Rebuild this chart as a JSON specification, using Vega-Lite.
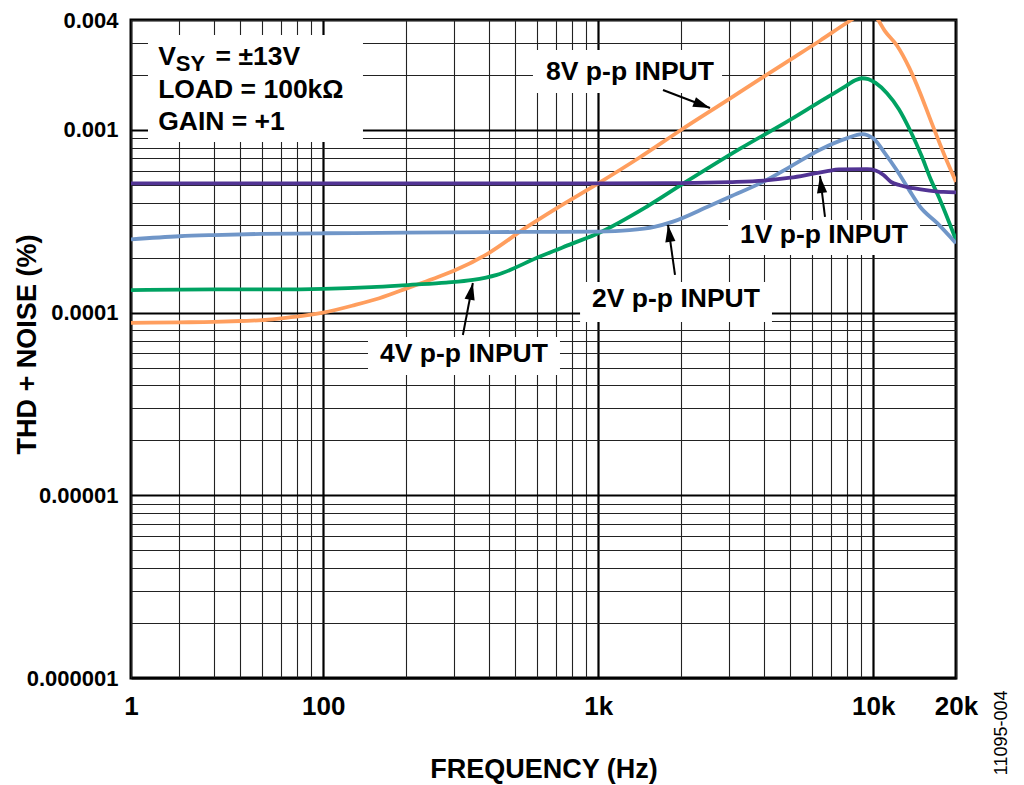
{
  "$schema": "https://vega.github.io/schema/vega-lite/v6.json",
  "width": 825,
  "height": 658,
  "autosize": {"type": "none"},
  "padding": {"left": 131, "top": 20, "right": 68, "bottom": 107},
  "background": "white",
  "config": {
    "view": {"stroke": "#000", "strokeWidth": 3},
    "font": "Liberation Sans"
  },
  "datasets": {
    "curves": [
      {"f": 20, "v": 0.000088, "s": "8V"},
      {"f": 30, "v": 0.0000885, "s": "8V"},
      {"f": 40, "v": 0.000089, "s": "8V"},
      {"f": 50, "v": 0.00009, "s": "8V"},
      {"f": 60, "v": 0.000091, "s": "8V"},
      {"f": 70, "v": 0.000093, "s": "8V"},
      {"f": 80, "v": 0.000095, "s": "8V"},
      {"f": 100, "v": 0.0001, "s": "8V"},
      {"f": 130, "v": 0.00011, "s": "8V"},
      {"f": 160, "v": 0.00012, "s": "8V"},
      {"f": 207, "v": 0.000138, "s": "8V"},
      {"f": 250, "v": 0.000153, "s": "8V"},
      {"f": 300, "v": 0.00017, "s": "8V"},
      {"f": 400, "v": 0.000212, "s": "8V"},
      {"f": 542, "v": 0.00029, "s": "8V"},
      {"f": 700, "v": 0.00037, "s": "8V"},
      {"f": 1000, "v": 0.00051, "s": "8V"},
      {"f": 1400, "v": 0.0007, "s": "8V"},
      {"f": 2000, "v": 0.001, "s": "8V"},
      {"f": 3000, "v": 0.00148, "s": "8V"},
      {"f": 4000, "v": 0.00196, "s": "8V"},
      {"f": 5000, "v": 0.00243, "s": "8V"},
      {"f": 6400, "v": 0.00308, "s": "8V"},
      {"f": 8100, "v": 0.0039, "s": "8V"},
      {"f": 9000, "v": 0.0043, "s": "8V"},
      {"f": 9700, "v": 0.0044, "s": "8V"},
      {"f": 10300, "v": 0.0041, "s": "8V"},
      {"f": 11000, "v": 0.0035, "s": "8V"},
      {"f": 12200, "v": 0.0029, "s": "8V"},
      {"f": 13500, "v": 0.0022, "s": "8V"},
      {"f": 14800, "v": 0.0016, "s": "8V"},
      {"f": 16000, "v": 0.00118, "s": "8V"},
      {"f": 17060, "v": 0.00092, "s": "8V"},
      {"f": 18500, "v": 0.00068, "s": "8V"},
      {"f": 20000, "v": 0.00052, "s": "8V"},

      {"f": 20, "v": 0.000133, "s": "4V"},
      {"f": 40, "v": 0.000134, "s": "4V"},
      {"f": 70, "v": 0.000134, "s": "4V"},
      {"f": 100, "v": 0.000135, "s": "4V"},
      {"f": 150, "v": 0.000138, "s": "4V"},
      {"f": 207, "v": 0.000142, "s": "4V"},
      {"f": 280, "v": 0.000146, "s": "4V"},
      {"f": 350, "v": 0.000151, "s": "4V"},
      {"f": 428, "v": 0.000161, "s": "4V"},
      {"f": 614, "v": 0.000203, "s": "4V"},
      {"f": 800, "v": 0.000238, "s": "4V"},
      {"f": 1000, "v": 0.000272, "s": "4V"},
      {"f": 1500, "v": 0.00038, "s": "4V"},
      {"f": 2035, "v": 0.000508, "s": "4V"},
      {"f": 3280, "v": 0.00079, "s": "4V"},
      {"f": 5000, "v": 0.00114, "s": "4V"},
      {"f": 6400, "v": 0.00143, "s": "4V"},
      {"f": 8000, "v": 0.00175, "s": "4V"},
      {"f": 8600, "v": 0.00187, "s": "4V"},
      {"f": 9100, "v": 0.00192, "s": "4V"},
      {"f": 9600, "v": 0.0019, "s": "4V"},
      {"f": 10200, "v": 0.00181, "s": "4V"},
      {"f": 11220, "v": 0.00159, "s": "4V"},
      {"f": 12400, "v": 0.0013, "s": "4V"},
      {"f": 13600, "v": 0.001, "s": "4V"},
      {"f": 15000, "v": 0.00072, "s": "4V"},
      {"f": 16080, "v": 0.00055, "s": "4V"},
      {"f": 17500, "v": 0.000414, "s": "4V"},
      {"f": 20000, "v": 0.00025, "s": "4V"},

      {"f": 20, "v": 0.000252, "s": "2V"},
      {"f": 30, "v": 0.000262, "s": "2V"},
      {"f": 40, "v": 0.000266, "s": "2V"},
      {"f": 60, "v": 0.00027, "s": "2V"},
      {"f": 100, "v": 0.000272, "s": "2V"},
      {"f": 200, "v": 0.000274, "s": "2V"},
      {"f": 400, "v": 0.000276, "s": "2V"},
      {"f": 700, "v": 0.000277, "s": "2V"},
      {"f": 1000, "v": 0.000278, "s": "2V"},
      {"f": 1300, "v": 0.000283, "s": "2V"},
      {"f": 1600, "v": 0.000295, "s": "2V"},
      {"f": 1870, "v": 0.000315, "s": "2V"},
      {"f": 2500, "v": 0.00038, "s": "2V"},
      {"f": 3000, "v": 0.00043, "s": "2V"},
      {"f": 3975, "v": 0.00052, "s": "2V"},
      {"f": 5000, "v": 0.00063, "s": "2V"},
      {"f": 6400, "v": 0.00078, "s": "2V"},
      {"f": 8000, "v": 0.0009, "s": "2V"},
      {"f": 9100, "v": 0.00095, "s": "2V"},
      {"f": 10000, "v": 0.0009, "s": "2V"},
      {"f": 11000, "v": 0.00075, "s": "2V"},
      {"f": 12200, "v": 0.0006, "s": "2V"},
      {"f": 13500, "v": 0.00047, "s": "2V"},
      {"f": 14800, "v": 0.00038, "s": "2V"},
      {"f": 17060, "v": 0.00031, "s": "2V"},
      {"f": 20000, "v": 0.00024, "s": "2V"},

      {"f": 20, "v": 0.00051, "s": "1V"},
      {"f": 100, "v": 0.00051, "s": "1V"},
      {"f": 1000, "v": 0.00051, "s": "1V"},
      {"f": 2000, "v": 0.000512, "s": "1V"},
      {"f": 3000, "v": 0.000518, "s": "1V"},
      {"f": 4000, "v": 0.000528, "s": "1V"},
      {"f": 5000, "v": 0.000548, "s": "1V"},
      {"f": 6000, "v": 0.000575, "s": "1V"},
      {"f": 6800, "v": 0.000595, "s": "1V"},
      {"f": 7500, "v": 0.000608, "s": "1V"},
      {"f": 9500, "v": 0.00061, "s": "1V"},
      {"f": 10200, "v": 0.0006, "s": "1V"},
      {"f": 10900, "v": 0.000567, "s": "1V"},
      {"f": 11600, "v": 0.00052, "s": "1V"},
      {"f": 12500, "v": 0.000498, "s": "1V"},
      {"f": 14000, "v": 0.00048, "s": "1V"},
      {"f": 16000, "v": 0.000466, "s": "1V"},
      {"f": 18000, "v": 0.000458, "s": "1V"},
      {"f": 20000, "v": 0.000456, "s": "1V"}
    ],
    "boxes": [
      {"f": 23.06, "f2": 139.5, "v": 0.00086, "v2": 0.00331},
      {"f": 579, "f2": 2820, "v": 0.001594, "v2": 0.002741},
      {"f": 2964, "f2": 14800, "v": 0.0002069, "v2": 0.0003217},
      {"f": 859, "f2": 4284, "v": 0.0000889, "v2": 0.0001472},
      {"f": 145.5, "f2": 726, "v": 0.0000456, "v2": 0.0000736}
    ],
    "labels": [
      {"f": 1305, "v": 0.001878, "t": "8V p-p INPUT"},
      {"f": 6620, "v": 0.0002407, "t": "1V p-p INPUT"},
      {"f": 1918, "v": 0.0001074, "t": "2V p-p INPUT"},
      {"f": 325, "v": 0.0000537, "t": "4V p-p INPUT"}
    ],
    "legend": [
      {"f": 25.1, "v": 0.00227, "t": "V"},
      {"f": 40.6, "v": 0.00227, "t": "= ±13V"},
      {"f": 25.1, "v": 0.001497, "t": "LOAD = 100kΩ"},
      {"f": 25.1, "v": 0.001, "t": "GAIN = +1"}
    ],
    "sub": [
      {"f": 29.1, "v": 0.0021, "t": "SY"}
    ],
    "arrows": [
      {"id": "8V", "f": 2550, "v": 0.001319, "f2": 1720, "v2": 0.001656},
      {"id": "1V", "f": 6404, "v": 0.00056, "f2": 6678, "v2": 0.000334},
      {"id": "2V", "f": 1794, "v": 0.000302, "f2": 1902, "v2": 0.0001608},
      {"id": "4V", "f": 350, "v": 0.0001454, "f2": 322, "v2": 0.0000755}
    ],
    "code": [
      {"f": 30580, "v": 0.0000005006, "t": "11095-004"}
    ]
  },
  "encoding": {
    "x": {
      "field": "f",
      "type": "quantitative",
      "scale": {"type": "log", "domain": [20, 20000]},
      "axis": {
        "title": "FREQUENCY (Hz)",
        "values": [20, 30, 40, 50, 60, 70, 80, 90, 100, 200, 300, 400, 500, 600, 700, 800, 900, 1000, 2000, 3000, 4000, 5000, 6000, 7000, 8000, 9000, 10000, 20000],
        "labelExpr": "datum.value == 20 ? '1' : datum.value == 100 ? '100' : datum.value == 1000 ? '1k' : datum.value == 10000 ? '10k' : datum.value == 20000 ? '20k' : ''",
        "labelOverlap": false,
        "labelFlush": false,
        "grid": true,
        "gridColor": {"condition": {"test": "datum.value == 100 || datum.value == 1000 || datum.value == 10000", "value": "#000"}, "value": "#222"},
        "gridWidth": {"condition": {"test": "datum.value == 100 || datum.value == 1000 || datum.value == 10000", "value": 2.2}, "value": 1.1},
        "gridOpacity": 1,
        "ticks": false,
        "tickSize": 0,
        "domain": false,
        "labelFont": "Liberation Sans",
        "labelFontWeight": "bold",
        "labelFontSize": 26,
        "labelColor": "#000",
        "labelPadding": 15,
        "titleFont": "Liberation Sans",
        "titleFontWeight": "bold",
        "titleFontSize": 27,
        "titleColor": "#000",
        "titleY": 99,
        "titleBaseline": "alphabetic"
      }
    },
    "y": {
      "field": "v",
      "type": "quantitative",
      "scale": {"type": "log", "domain": [0.000001, 0.004]},
      "axis": {
        "title": "THD + NOISE (%)",
        "values": [0.000001, 0.000002, 0.000003, 0.000004, 0.000005, 0.000006, 0.000007, 0.000008, 0.000009, 0.00001, 0.00002, 0.00003, 0.00004, 0.00005, 0.00006, 0.00007, 0.00008, 0.00009, 0.0001, 0.0002, 0.0003, 0.0004, 0.0005, 0.0006, 0.0007, 0.0008, 0.0009, 0.001, 0.002, 0.003, 0.004],
        "format": ".6~f",
        "labelExpr": "indexof(['0.000001', '0.00001', '0.0001', '0.001', '0.004'], datum.label) >= 0 ? datum.label : ''",
        "labelOverlap": false,
        "labelFlush": false,
        "grid": true,
        "gridColor": {"condition": {"test": "abs(log(datum.value) / LN10 - round(log(datum.value) / LN10)) < 0.001", "value": "#000"}, "value": "#222"},
        "gridWidth": {"condition": {"test": "abs(log(datum.value) / LN10 - round(log(datum.value) / LN10)) < 0.001", "value": 2.2}, "value": 1.1},
        "gridOpacity": 1,
        "ticks": false,
        "tickSize": 0,
        "domain": false,
        "labelFont": "Liberation Sans",
        "labelFontWeight": "bold",
        "labelFontSize": 22,
        "labelColor": "#000",
        "labelPadding": 13,
        "titleFont": "Liberation Sans",
        "titleFontWeight": "bold",
        "titleFontSize": 27,
        "titleColor": "#000",
        "titleAngle": 270,
        "titleX": -96,
        "titleY": 324,
        "titleAlign": "center",
        "titleBaseline": "alphabetic"
      }
    }
  },
  "layer": [
    {
      "data": {"name": "boxes"},
      "mark": {"type": "rect", "color": "white", "opacity": 1},
      "encoding": {
        "x2": {"field": "f2"},
        "y2": {"field": "v2"}
      }
    },
    {
      "data": {"name": "curves"},
      "mark": {"type": "line", "clip": true, "strokeWidth": 3.8, "interpolate": "monotone"},
      "encoding": {
        "color": {
          "field": "s",
          "type": "nominal",
          "scale": {"domain": ["8V", "4V", "2V", "1V"], "range": ["#FF9E5E", "#00A262", "#7096C8", "#523494"]},
          "legend": null
        }
      }
    },
    {
      "data": {"name": "labels"},
      "mark": {"type": "text", "font": "Liberation Sans", "fontWeight": "bold", "fontSize": 26.5, "align": "center", "baseline": "alphabetic", "color": "#000"},
      "encoding": {
        "text": {"field": "t"}
      }
    },
    {
      "data": {"name": "legend"},
      "mark": {"type": "text", "font": "Liberation Sans", "fontWeight": "bold", "fontSize": 26.5, "align": "left", "baseline": "alphabetic", "color": "#000"},
      "encoding": {
        "text": {"field": "t"}
      }
    },
    {
      "data": {"name": "sub"},
      "mark": {"type": "text", "font": "Liberation Sans", "fontWeight": "bold", "fontSize": 22, "align": "left", "baseline": "alphabetic", "color": "#000"},
      "encoding": {
        "text": {"field": "t"}
      }
    },
    {
      "data": {"name": "arrows"},
      "mark": {"type": "rule", "color": "#000", "strokeWidth": 2},
      "encoding": {
        "x2": {"field": "f2"},
        "y2": {"field": "v2"}
      }
    },
    {
      "data": {"name": "arrows"},
      "transform": [{"filter": "datum.id == '8V'"}],
      "mark": {"type": "point", "shape": "M0,0L-0.6,2L0.6,2Z", "size": 289, "angle": 111, "filled": true, "color": "#000", "opacity": 1, "strokeWidth": 0}
    },
    {
      "data": {"name": "arrows"},
      "transform": [{"filter": "datum.id == '1V'"}],
      "mark": {"type": "point", "shape": "M0,0L-0.6,2L0.6,2Z", "size": 289, "angle": 353, "filled": true, "color": "#000", "opacity": 1, "strokeWidth": 0}
    },
    {
      "data": {"name": "arrows"},
      "transform": [{"filter": "datum.id == '2V'"}],
      "mark": {"type": "point", "shape": "M0,0L-0.6,2L0.6,2Z", "size": 289, "angle": 352, "filled": true, "color": "#000", "opacity": 1, "strokeWidth": 0}
    },
    {
      "data": {"name": "arrows"},
      "transform": [{"filter": "datum.id == '4V'"}],
      "mark": {"type": "point", "shape": "M0,0L-0.6,2L0.6,2Z", "size": 289, "angle": 11, "filled": true, "color": "#000", "opacity": 1, "strokeWidth": 0}
    },
    {
      "data": {"name": "code"},
      "mark": {"type": "text", "font": "Liberation Sans", "fontSize": 18, "angle": 270, "align": "center", "baseline": "alphabetic", "color": "#000"},
      "encoding": {
        "text": {"field": "t"}
      }
    }
  ]
}
